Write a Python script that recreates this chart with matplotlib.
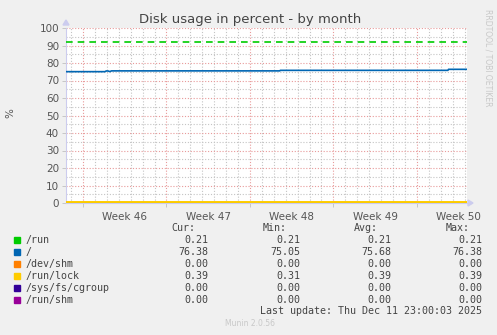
import numpy as np
import matplotlib
matplotlib.use("Agg")
import matplotlib.pyplot as plt

# time in days, 0 = start of Week 46 (Mon)
x_start = -1.42
x_end = 32.2

# data series
t_root = [-1.42, 1.85, 1.95, 2.1, 2.25, 2.4, 16.5, 16.55, 30.6, 30.65, 32.2]
v_root = [75.05, 75.05, 75.45, 75.45, 75.1, 75.5, 75.5, 75.8, 75.8, 76.38, 76.38]
t_flat = [x_start, x_end]
v_run = [0.21, 0.21]
v_devshm = [0.0, 0.0]
v_runlock = [0.39, 0.39]
v_cgroup = [0.0, 0.0]
v_runshm = [0.0, 0.0]
warn_level = 92

names = ["/run", "/", "/dev/shm", "/run/lock", "/sys/fs/cgroup", "/run/shm"]
colors = ["#00CC00", "#0066B3", "#FF8000", "#FFCC00", "#330099", "#990099"]
cur = ["0.21", "76.38", "0.00", "0.39", "0.00", "0.00"]
mins = ["0.21", "75.05", "0.00", "0.31", "0.00", "0.00"]
avgs = ["0.21", "75.68", "0.00", "0.39", "0.00", "0.00"]
maxs = ["0.21", "76.38", "0.00", "0.39", "0.00", "0.00"]
week_labels = ["Week 46", "Week 47", "Week 48", "Week 49", "Week 50"]

W, H = 497, 335
fig = plt.figure(figsize=(W / 100, H / 100), dpi=100, facecolor="#F0F0F0")
ax = fig.add_axes([66 / W, (H - 203) / H, 401 / W, 175 / H])
ax.set_facecolor("white")
ax.set_xlim(x_start, x_end)
ax.set_ylim(0, 100)

# grid
minor_c = "#c4c4c4"
major_c = "#e89a9a"
dots = (0, (1, 1.6))
for d in np.arange(-1, 33):
    if d % 7 != 0:
        ax.axvline(d, color=minor_c, lw=0.8, ls=dots, zorder=1)
for d in range(0, 33, 7):
    ax.axvline(d, color=major_c, lw=0.8, ls=dots, zorder=1)
for y in range(5, 101, 10):
    ax.axhline(y, color=minor_c, lw=0.8, ls=dots, zorder=1)
for y in range(10, 101, 10):
    ax.axhline(y, color=major_c, lw=0.8, ls=dots, zorder=1)

# series
ax.plot(t_flat, v_runshm, color=colors[5], lw=1.2, zorder=3)
ax.plot(t_flat, v_cgroup, color=colors[4], lw=1.2, zorder=3)
ax.plot(t_flat, v_devshm, color=colors[2], lw=1.2, zorder=3)
ax.plot(t_flat, v_run, color=colors[0], lw=1.2, zorder=3)
ax.plot(t_flat, v_runlock, color=colors[3], lw=1.4, zorder=4)
ax.plot(t_root, v_root, color=colors[1], lw=1.2, zorder=3)
ax.axhline(warn_level, color="#00CC00", lw=1.2, ls=(0, (4, 3)), zorder=3)

for s in ["top", "right"]:
    ax.spines[s].set_visible(False)
for s in ["left", "bottom"]:
    ax.spines[s].set_color("#ccccee")
    ax.spines[s].set_linewidth(0.8)
ax.spines["bottom"].set_zorder(2)

ax.set_yticks(range(0, 101, 10))
ax.set_xticks(range(0, 33, 7))
ax.set_xticklabels([])
ax.tick_params(axis="both", length=3, width=0.6, color="#c0c0c0",
               labelsize=7.5, labelcolor="#555555", pad=2)
for i, lab in enumerate(week_labels):
    ax.text(3.5 + 7 * i, -5, lab, ha="center", va="top", fontsize=7.5,
            color="#555555", transform=ax.transData, clip_on=False)

# axis arrows
fig.patches.append(matplotlib.patches.Polygon(
    [[63 / W, 1 - 25 / H], [69 / W, 1 - 25 / H], [66 / W, 1 - 20 / H]],
    closed=True, color="#ccccee", transform=fig.transFigure))
fig.patches.append(matplotlib.patches.Polygon(
    [[468 / W, 1 - 200 / H], [468 / W, 1 - 206 / H], [473 / W, 1 - 203 / H]],
    closed=True, color="#ccccee", transform=fig.transFigure))

fig.text(250 / W, 1 - 19 / H, "Disk usage in percent - by month", ha="center",
         va="center", fontsize=9.5, color="#444444")
fig.text(10 / W, 1 - 113 / H, "%", rotation=90, ha="center", va="center",
         fontsize=7.5, color="#555555")
fig.text(488 / W, 1 - 58 / H, "RRDTOOL / TOBI OETIKER", rotation=270,
         ha="center", va="center", fontsize=5.5, color="#c8c8c8")

# legend table
mono = "DejaVu Sans Mono"
fs = 7.2
tc = "#444444"
def fy(y):
    return 1 - y / H
fig.text(195 / W, fy(228), "Cur:", ha="right", va="center", family=mono, fontsize=fs, color=tc)
fig.text(287 / W, fy(228), "Min:", ha="right", va="center", family=mono, fontsize=fs, color=tc)
fig.text(378 / W, fy(228), "Avg:", ha="right", va="center", family=mono, fontsize=fs, color=tc)
fig.text(470 / W, fy(228), "Max:", ha="right", va="center", family=mono, fontsize=fs, color=tc)
for i in range(len(names)):
    y = 240 + 12 * i
    fig.patches.append(matplotlib.patches.Rectangle(
        (14 / W, fy(y + 3)), 6 / W, 6 / H, color=colors[i], transform=fig.transFigure))
    fig.text(26 / W, fy(y), names[i], ha="left", va="center", family=mono, fontsize=fs, color=tc)
    fig.text(208 / W, fy(y), cur[i], ha="right", va="center", family=mono, fontsize=fs, color=tc)
    fig.text(300 / W, fy(y), mins[i], ha="right", va="center", family=mono, fontsize=fs, color=tc)
    fig.text(391 / W, fy(y), avgs[i], ha="right", va="center", family=mono, fontsize=fs, color=tc)
    fig.text(482 / W, fy(y), maxs[i], ha="right", va="center", family=mono, fontsize=fs, color=tc)
fig.text(482 / W, fy(311), "Last update: Thu Dec 11 23:00:03 2025", ha="right",
         va="center", family=mono, fontsize=fs, color=tc)
fig.text(250 / W, fy(323), "Munin 2.0.56", ha="center", va="center",
         fontsize=5.5, color="#c8c8c8")

fig.savefig("out.png", dpi=100, facecolor=fig.get_facecolor())
